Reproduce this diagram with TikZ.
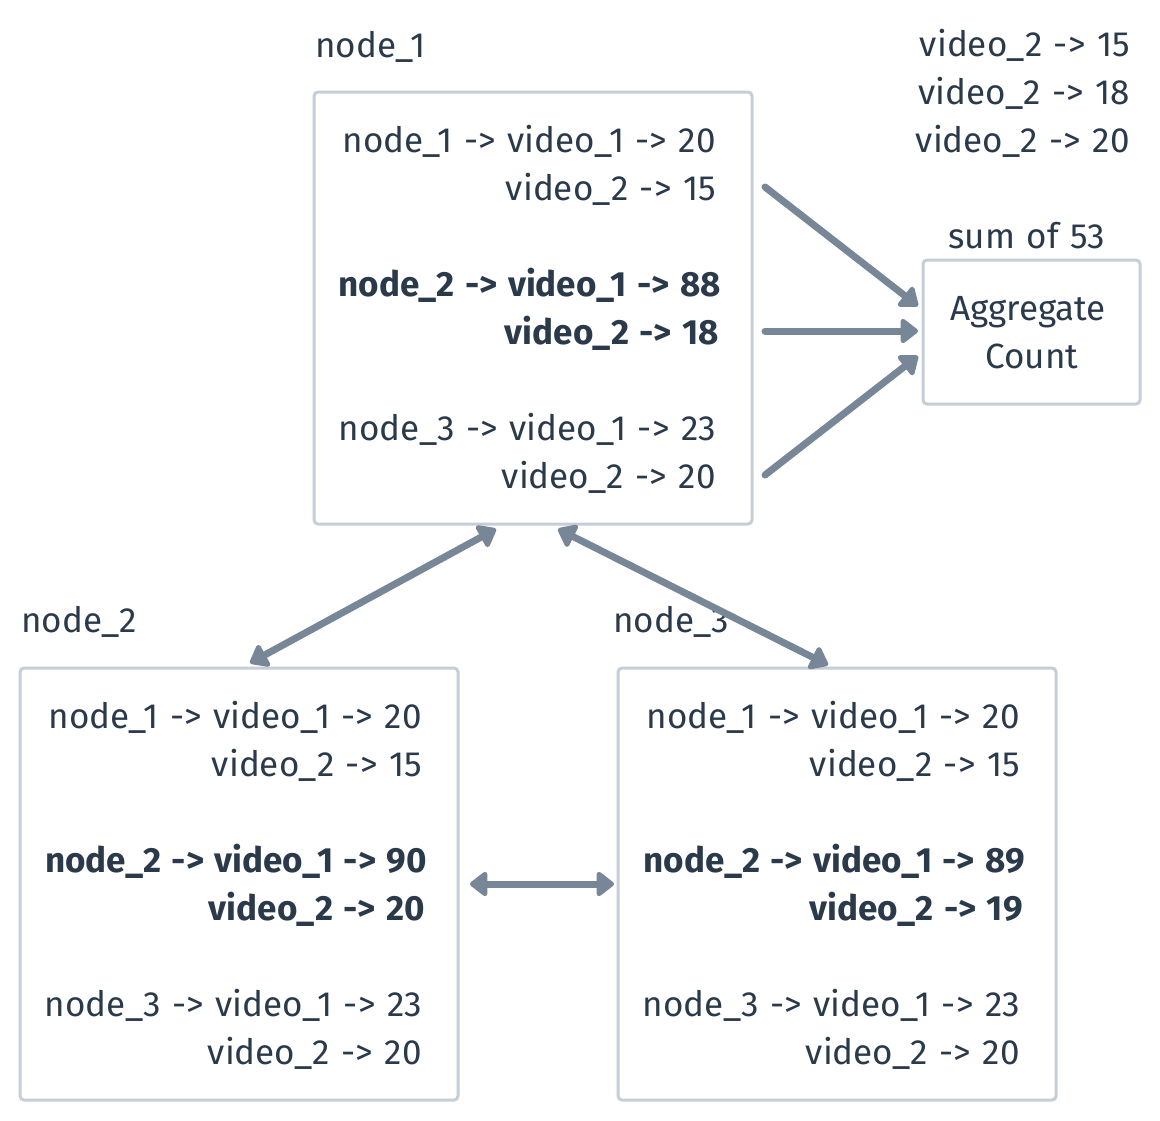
\documentclass[tikz,border=0pt]{standalone}
\usepackage{fontspec}
\setmainfont[WordSpace=1.25]{Fira Sans}
\usetikzlibrary{arrows.meta}
\definecolor{boxc}{HTML}{C5CED8}
\definecolor{arrc}{HTML}{778797}
\definecolor{txtc}{HTML}{2B3A4A}
\tikzset{
  box/.style={draw=boxc, line width=3pt, rounded corners=4pt, fill=white, inner sep=0pt},
  txt/.style={text=txtc, inner sep=0pt, font=\fontsize{35}{42}\selectfont},
  rline/.style={txt, anchor=base east},
  lline/.style={txt, anchor=base west},
  bline/.style={txt, anchor=base east, font=\fontsize{35}{42}\selectfont\bfseries},
  arr/.style={draw=arrc, line width=7pt, line cap=round, -{Triangle[length=19pt,width=28pt,round]}},
  darr/.style={draw=arrc, line width=7pt, {Triangle[length=19pt,width=28pt,round]}-{Triangle[length=19pt,width=28pt,round]}},
}
\begin{document}
\begin{tikzpicture}[x=1pt,y=-1pt]
\fill[white] (0,0) rectangle (1160,1120);
\useasboundingbox (0,0) rectangle (1160,1120);

% boxes
\node[box, minimum width=438pt, minimum height=432pt] (n1) at (533,308) {};
\node[box, minimum width=438pt, minimum height=432pt] (n2) at (239,884) {};
\node[box, minimum width=438pt, minimum height=432pt] (n3) at (837,884) {};
\node[box, minimum width=217pt, minimum height=144pt] (agg) at (1031.5,332) {};

% box labels
\node[lline] (l1) at (315,57) {node\_1};
\node[lline] (l2) at (21,632) {node\_2};
\node[lline] (l3) at (613,632) {node\_3};

% node_1 contents
\node[rline] (a1) at (716,152) {node\_1 -> video\_1 -> 20};
\node[rline] (a2) at (716,200) {video\_2 -> 15};
\node[bline] (a3) at (721,296) {node\_2 -> video\_1 -> 88};
\node[bline] (a4) at (719,344) {video\_2 -> 18};
\node[rline] (a5) at (716,440) {node\_3 -> video\_1 -> 23};
\node[rline] (a6) at (716,488) {video\_2 -> 20};

% node_2 contents
\node[rline] (b1) at (422,728) {node\_1 -> video\_1 -> 20};
\node[rline] (b2) at (422,776) {video\_2 -> 15};
\node[bline] (b3) at (427,872) {node\_2 -> video\_1 -> 90};
\node[bline] (b4) at (425,920) {video\_2 -> 20};
\node[rline] (b5) at (422,1016) {node\_3 -> video\_1 -> 23};
\node[rline] (b6) at (422,1064) {video\_2 -> 20};

% node_3 contents
\node[rline] (c1) at (1020,728) {node\_1 -> video\_1 -> 20};
\node[rline] (c2) at (1020,776) {video\_2 -> 15};
\node[bline] (c3) at (1025,872) {node\_2 -> video\_1 -> 89};
\node[bline] (c4) at (1023,920) {video\_2 -> 19};
\node[rline] (c5) at (1020,1016) {node\_3 -> video\_1 -> 23};
\node[rline] (c6) at (1020,1064) {video\_2 -> 20};

% top right list
\node[rline] (r1) at (1130,56) {video\_2 -> 15};
\node[rline] (r2) at (1130,104) {video\_2 -> 18};
\node[rline] (r3) at (1130,152) {video\_2 -> 20};
\node[txt, anchor=base] (sum) at (1027,248) {sum of 53};
\node[txt, anchor=base] (ag1) at (1028,320) {Aggregate};
\node[txt, anchor=base] (ag2) at (1032,368) {Count};

% connector endpoints
\coordinate (s1) at (765,187);
\coordinate (s2) at (765,331);
\coordinate (s3) at (765,475);
\coordinate (e1) at (918,306);
\coordinate (e2) at (918,331);
\coordinate (e3) at (918,356);
\coordinate (p1) at (496,529);
\coordinate (p2) at (250,663);
\coordinate (q1) at (558,529);
\coordinate (q2) at (828,665);
\coordinate (h1) at (470,884);
\coordinate (h2) at (614,884);

\draw[arr] (s1) -- (e1);
\draw[arr] (s2) -- (e2);
\draw[arr] (s3) -- (e3);
\draw[darr] (p2) -- (p1);
\draw[darr] (q1) -- (q2);
\draw[darr] (h1) -- (h2);
\end{tikzpicture}
\end{document}
